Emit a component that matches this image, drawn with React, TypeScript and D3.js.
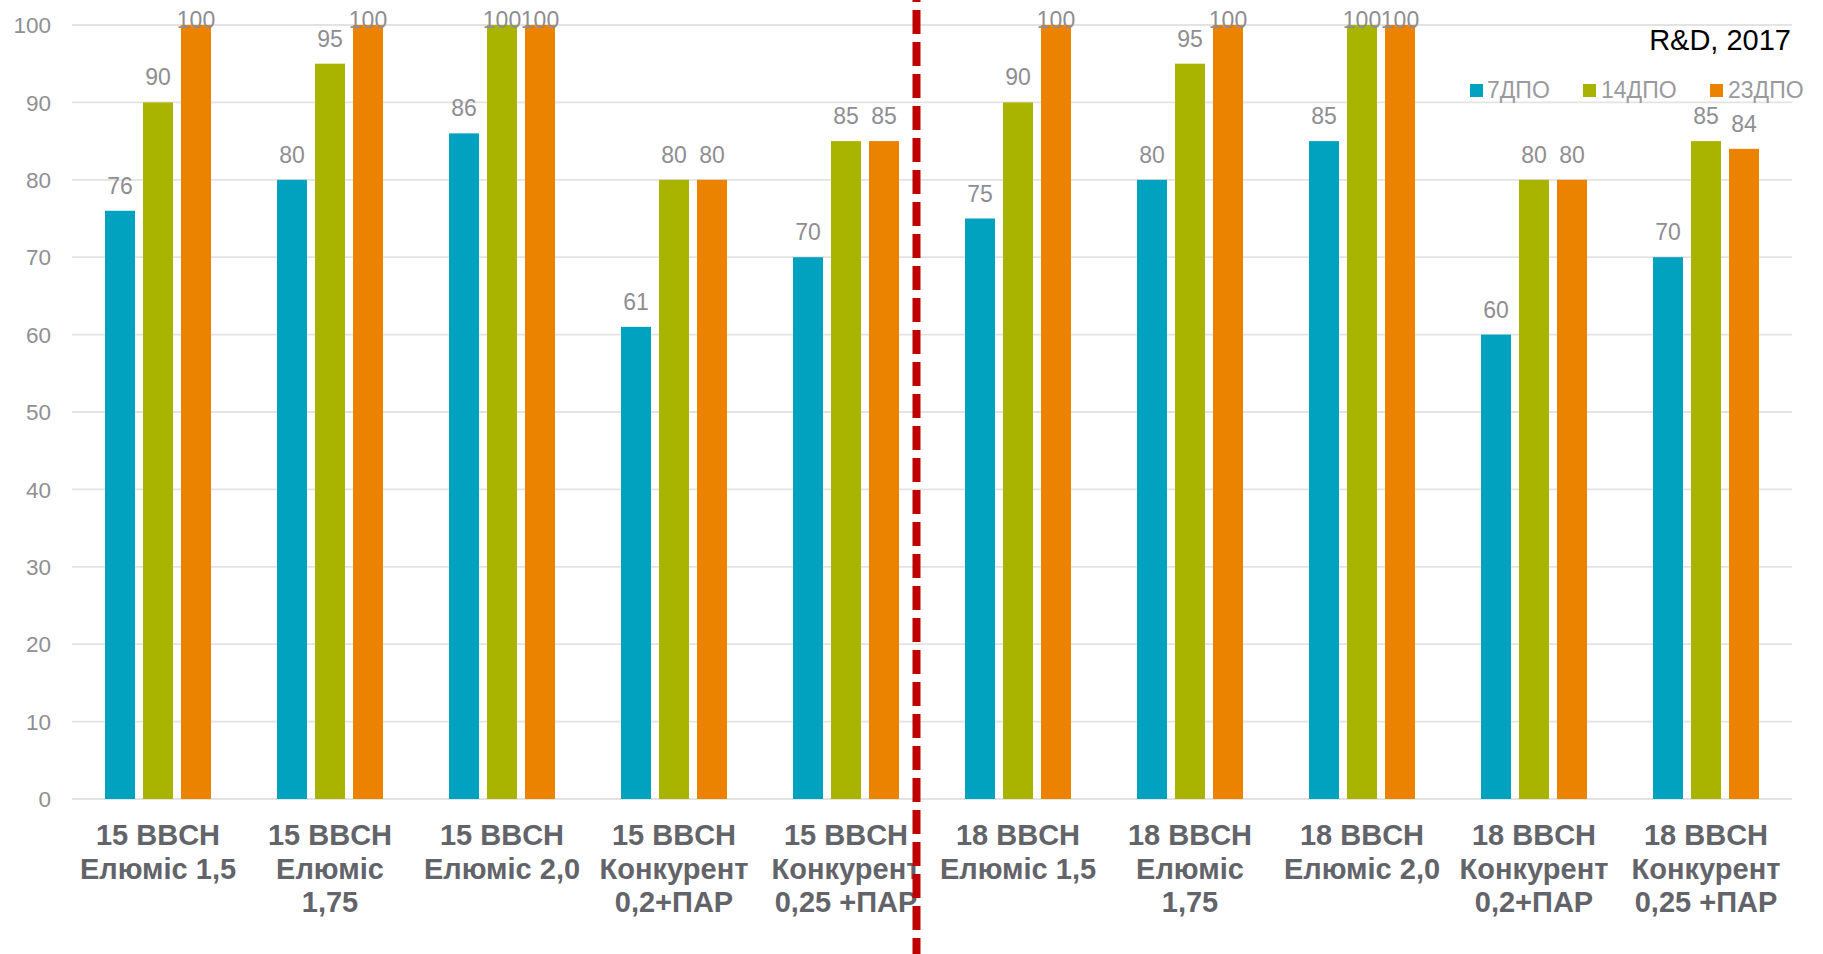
import React from "react";
import * as d3 from "d3";

const categories = [
  "15 BBCH\nЕлюміс 1,5",
  "15 BBCH\nЕлюміс\n1,75",
  "15 BBCH\nЕлюміс 2,0",
  "15 BBCH\nКонкурент\n0,2+ПАР",
  "15 BBCH\nКонкурент\n0,25 +ПАР",
  "18 BBCH\nЕлюміс 1,5",
  "18 BBCH\nЕлюміс\n1,75",
  "18 BBCH\nЕлюміс 2,0",
  "18 BBCH\nКонкурент\n0,2+ПАР",
  "18 BBCH\nКонкурент\n0,25 +ПАР",
];
const seriesNames = ["7ДПО", "14ДПО", "23ДПО"];
const dpo7 = [76, 80, 86, 61, 70, 75, 80, 85, 60, 70];
const dpo14 = [90, 95, 100, 80, 85, 90, 95, 100, 80, 85];
const dpo23 = [100, 100, 100, 80, 85, 100, 100, 100, 80, 84];
const yTicks = [0, 10, 20, 30, 40, 50, 60, 70, 80, 90, 100];
const title = "R&D, 2017";

const seriesValues = [dpo7, dpo14, dpo23];
const colors = ["#00A2BF", "#A9B400", "#EB8200"];

const W = 1823;
const H = 954;
const left = 72;
const right = 1792;
const top = 25;
const bottom = 799;
const FONT = "'Liberation Sans', Arial, sans-serif";

export default function App() {
  const x = d3.scaleBand<number>().domain(d3.range(categories.length)).range([left, right]).padding(0);
  const step = x.bandwidth();
  const groupW = 106;
  const inner = d3.scaleBand<number>().domain([0, 1, 2]).range([0, groupW]).paddingInner(8 / 38).paddingOuter(0);
  const offset = (step - groupW) / 2;
  const y = d3.scaleLinear().domain([0, 100]).range([bottom, top]);
  const dividerX = 916.5;

  const legendItems = [
    { sq: 1470, tx: 1487 },
    { sq: 1583, tx: 1601 },
    { sq: 1710, tx: 1728 },
  ];

  return (
    <svg
      width={W}
      height={H}
      style={{ position: "absolute", left: 0, top: 0, display: "block", background: "#fff" }}
      fontFamily={FONT}
    >
      <rect x={0} y={0} width={W} height={H} fill="#fff" />
      {yTicks.map((t) => (
        <g key={t}>
          <line x1={left} x2={right} y1={y(t)} y2={y(t)} stroke="#e3e3e3" strokeWidth={1.8} />
          <text x={51} y={y(t)} dy="0.36em" textAnchor="end" fontSize={22.5} fill="#8f8f94">
            {t}
          </text>
        </g>
      ))}
      {categories.map((c, i) => (
        <g key={i}>
          {seriesValues.map((vals, s) => {
            const bx = (x(i) as number) + offset + (inner(s) as number);
            const v = vals[i];
            const bw = inner.bandwidth();
            return (
              <g key={s}>
                <rect x={bx} y={y(v)} width={bw} height={y(0) - y(v)} fill={colors[s]} />
                <text
                  x={bx + bw / 2}
                  y={Math.max(y(v) - 17, 28)}
                  textAnchor="middle"
                  fontSize={23}
                  fill="#8e8e92"
                >
                  {v}
                </text>
              </g>
            );
          })}
          <text
            x={(x(i) as number) + step / 2}
            y={845}
            textAnchor="middle"
            fontSize={29}
            fontWeight="bold"
            fill="#626469"
          >
            {c.split("\n").map((line, k) => (
              <tspan key={k} x={(x(i) as number) + step / 2} dy={k === 0 ? 0 : 33.5}>
                {line}
              </tspan>
            ))}
          </text>
        </g>
      ))}
      <line
        x1={dividerX}
        x2={dividerX}
        y1={0}
        y2={H}
        stroke="#C00000"
        strokeWidth={8}
        strokeDasharray="24 8"
        strokeDashoffset={22}
      />
      <text x={1791} y={50} textAnchor="end" fontSize={29} fill="#000">
        {title}
      </text>
      {seriesNames.map((n, s) => (
        <g key={n}>
          <rect x={legendItems[s].sq} y={84} width={13} height={13} fill={colors[s]} />
          <text x={legendItems[s].tx} y={98} fontSize={23} fill="#9a9a9e">
            {n}
          </text>
        </g>
      ))}
    </svg>
  );
}
